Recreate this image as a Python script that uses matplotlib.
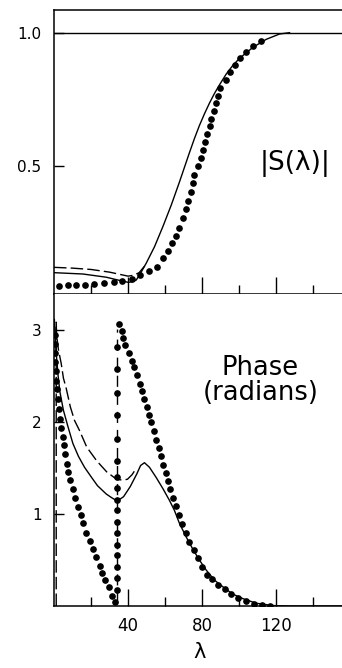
import matplotlib
matplotlib.use('Agg')
import matplotlib.pyplot as plt
from matplotlib.ticker import FixedLocator

# |S(lambda)| : solid and dashed curves, dotted data points
mag_solid_lam = [0.0, 15.6, 28.2, 35.4, 39.9, 41.9, 44.4, 46.2, 49.8, 54.3, 58.8, 63.4, 67.8,
                 70.5, 73.2, 75.9, 78.6, 81.4, 84.1, 86.8, 89.5, 93.1, 96.5, 100.3, 107.5,
                 114.7, 121.9, 127.3]
mag_solid = [0.100, 0.095, 0.083, 0.071, 0.064, 0.065, 0.072, 0.091, 0.135, 0.197, 0.272, 0.354,
             0.440, 0.495, 0.550, 0.603, 0.652, 0.697, 0.737, 0.773, 0.805, 0.845, 0.876, 0.904,
             0.945, 0.975, 0.995, 1.0]

mag_dash_lam = [0.0, 10.0, 20.0, 30.0, 36.0, 40.0, 43.0, 46.0, 49.0]
mag_dash = [0.120, 0.117, 0.112, 0.102, 0.093, 0.087, 0.090, 0.100, 0.125]

mag_dot_lam = [2.6, 7.3, 12.0, 16.9, 21.5, 26.9, 32.2, 36.9, 41.9, 46.5, 51.1, 55.4, 58.8, 61.5,
               63.9, 66.1, 67.8, 69.6, 71.1, 72.3, 73.8, 75.0, 75.9, 77.7, 79.2, 80.4, 81.5, 82.6,
               84.1, 85.1, 86.4, 87.7, 88.8, 89.8, 92.7, 94.9, 97.6, 100.6, 103.9, 107.8, 112.0]
mag_dot = [0.051, 0.054, 0.054, 0.055, 0.059, 0.060, 0.064, 0.070, 0.078, 0.090, 0.105, 0.123,
           0.154, 0.182, 0.210, 0.237, 0.269, 0.304, 0.338, 0.369, 0.404, 0.435, 0.465, 0.501,
           0.531, 0.560, 0.591, 0.619, 0.650, 0.677, 0.707, 0.735, 0.763, 0.791, 0.823, 0.854,
           0.879, 0.904, 0.926, 0.950, 0.970]

# phase (radians)
ph_solid_lam = [0.2, 1.2, 2.2, 3.2, 5.1, 7.3, 10.2, 13.2, 16.5, 20.3, 23.5, 28.2, 31.1, 33.6,
                35.4, 37.6, 41.2, 44.8, 46.8, 48.9, 51.6, 55.2, 58.8, 62.4, 65.1, 67.8, 71.5,
                75.0, 78.6, 82.3, 86.8, 91.2, 96.6, 102.1, 109.3, 118.3, 127.3, 140.0, 157.0]
ph_solid = [3.12, 2.75, 2.51, 2.33, 2.13, 1.97, 1.77, 1.63, 1.51, 1.40, 1.31, 1.22, 1.18, 1.15,
            1.16, 1.19, 1.30, 1.44, 1.53, 1.56, 1.51, 1.40, 1.28, 1.15, 1.04, 0.90, 0.75, 0.62,
            0.50, 0.39, 0.28, 0.21, 0.13, 0.08, 0.03, 0.005, 0.0, 0.0, 0.0]

ph_dash_lam = [1.2, 1.2, 1.4, 2.4, 3.9, 5.1, 6.6, 8.8, 11.1, 13.8, 17.7, 23.1, 28.5, 33.8, 37.2,
               39.7, 42.2, 43.5]
ph_dash = [0.0, 3.09, 2.95, 2.79, 2.64, 2.48, 2.37, 2.17, 2.02, 1.91, 1.73, 1.58, 1.46, 1.38,
           1.37, 1.38, 1.43, 1.47]

ph_dot_lam = [0.4, 0.5, 0.6, 0.8, 1.0, 1.3, 1.7, 2.2, 2.6, 3.2, 3.9, 4.6, 5.4, 6.1, 6.9, 7.8,
              8.8, 10.2, 11.5, 12.9, 14.5, 15.9, 17.4, 19.2, 21.0, 22.8, 24.6, 26.2, 27.7, 29.5,
              31.2, 33.1,
              33.9, 33.9, 33.9, 33.9, 33.9, 33.9, 33.9, 33.9, 33.9, 33.9, 33.9, 33.9, 33.9, 33.9,
              33.9, 33.9, 33.9,
              34.9, 36.5, 37.3, 38.6, 40.5, 41.9, 43.5, 45.0, 46.5, 47.8, 48.9, 50.3, 51.5, 52.4,
              53.8, 55.1, 56.5, 57.7, 58.8, 60.3, 61.5, 62.8, 64.2, 65.7, 67.3, 69.1, 71.1, 72.9,
              75.4, 77.7, 80.1, 82.8, 85.5, 88.8, 92.2, 95.8, 99.7, 103.5, 108.0, 112.5, 117.0]
ph_dot = [2.95, 2.85, 2.75, 2.66, 2.56, 2.45, 2.36, 2.25, 2.15, 2.04, 1.94, 1.84, 1.75, 1.66,
          1.55, 1.46, 1.37, 1.27, 1.18, 1.08, 0.99, 0.90, 0.80, 0.71, 0.62, 0.53, 0.44, 0.36,
          0.28, 0.21, 0.11, 0.04,
          0.17, 0.31, 0.42, 0.55, 0.66, 0.79, 0.91, 1.04, 1.15, 1.28, 1.40, 1.58, 1.82, 2.08,
          2.32, 2.58, 2.82,
          3.07, 2.99, 2.92, 2.84, 2.76, 2.67, 2.60, 2.51, 2.42, 2.34, 2.25, 2.17, 2.08, 2.00,
          1.91, 1.81, 1.72, 1.63, 1.54, 1.45, 1.36, 1.27, 1.18, 1.09, 0.99, 0.89, 0.80, 0.70,
          0.61, 0.52, 0.43, 0.34, 0.29, 0.23, 0.18, 0.13, 0.085, 0.052, 0.024, 0.013, 0.002]

jump_lam = 33.9   # dash-dot line where the phase wraps

W, H = 342, 668
fig = plt.figure(figsize=(W / 100.0, H / 100.0), dpi=100)
left = 54.0 / W
width = 290.5 / W
ax1 = fig.add_axes([left, (H - 294.0) / H, width, 284.0 / H])
ax2 = fig.add_axes([left, (H - 606.0) / H, width, 312.0 / H])

lw = 1.0
dash = (0, (9, 3))
dot_kw = dict(ls='none', marker='o', ms=3.8, color='black', mec='black')

def style_axes(ax):
    ax.set_xlim(0, 157)
    ax.spines['right'].set_visible(False)
    for s in ['left', 'bottom', 'top']:
        ax.spines[s].set_linewidth(1.1)
    ax.xaxis.set_major_locator(FixedLocator([40, 80, 120]))
    ax.xaxis.set_minor_locator(FixedLocator([20, 60, 100, 140]))
    ax.tick_params(axis='x', which='major', direction='in', length=12, width=1, pad=8,
                   labelsize=12, top=False)
    ax.tick_params(axis='x', which='minor', direction='in', length=6.5, width=1, top=False)
    ax.tick_params(axis='y', which='major', direction='in', length=7, width=1, pad=9,
                   labelsize=11, right=False)

# top panel: magnitude
style_axes(ax1)
ax1.set_ylim(0.02, 1.085)
ax1.axhline(1.0, color='black', lw=lw)
ax1.plot(mag_solid_lam, mag_solid, color='black', lw=lw)
ax1.plot(mag_dash_lam, mag_dash, color='black', lw=lw, ls=dash)
ax1.plot(mag_dot_lam, mag_dot, **dot_kw)
ax1.set_yticks([0.5, 1.0])
ax1.set_yticklabels(['0.5', '1.0'])
ax1.tick_params(axis='x', labelbottom=False)
ax1.text(130.5, 0.51, '|S(\u03bb)|', fontsize=19, ha='center', va='center')

# bottom panel: phase
style_axes(ax2)
ax2.spines['top'].set_visible(False)
ax2.set_ylim(0, 3.397)
ax2.plot(ph_solid_lam, ph_solid, color='black', lw=lw)
ax2.plot(ph_dash_lam, ph_dash, color='black', lw=lw, ls=dash)
ax2.plot([jump_lam, jump_lam], [0.03, 3.02], color='black', lw=lw, ls=(0, (8, 5)))
ax2.plot(ph_dot_lam, ph_dot, **dot_kw)
ax2.set_yticks([1, 2, 3])
ax2.set_yticklabels(['1', '2', '3'])
ax2.set_xticklabels(['40', '80', '120'])
ax2.text(111.5, 2.45, 'Phase\n(radians)', fontsize=18.5, ha='center', va='center', linespacing=0.95)
ax2.set_xlabel('\u03bb', fontsize=15, labelpad=5)

fig.savefig('out.png', dpi=100)
